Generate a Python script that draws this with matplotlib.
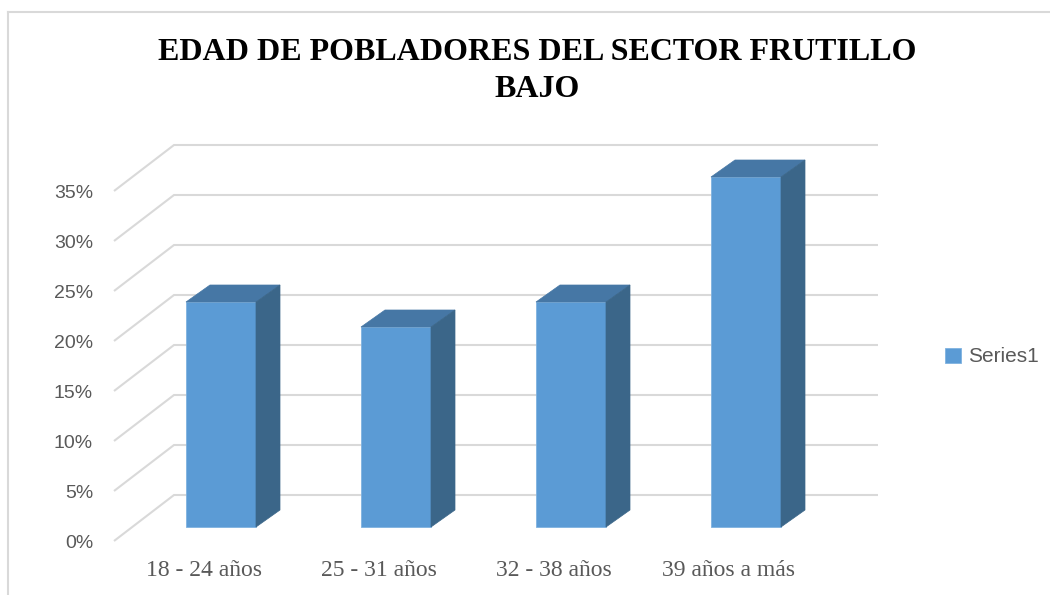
import matplotlib
matplotlib.use("Agg")
import matplotlib.pyplot as plt
from matplotlib.patches import Polygon
from matplotlib.lines import Line2D

categories = ["18 - 24 años", "25 - 31 años", "32 - 38 años", "39 años a más"]
values = [22.5, 20.0, 22.5, 35.0]          # percent
ytick_values = [0, 5, 10, 15, 20, 25, 30, 35]
ytick_labels = ["0%", "5%", "10%", "15%", "20%", "25%", "30%", "35%"]
series_name = "Series1"
title = "EDAD DE POBLADORES DEL SECTOR FRUTILLO\nBAJO"

W, H = 1050, 595
fig = plt.figure(figsize=(W / 100, H / 100), dpi=100)
ax = fig.add_axes([0, 0, 1, 1])
# data mapping: x unit = 175 px, y unit (1%) = 10 px; origin at px (221, 527)
ax.set_xlim(-221 / 175, (W - 221) / 175)
ax.set_ylim((527 - H) / 10, 527 / 10)
ax.axis("off")

grid_c = "#D9D9D9"
front_c = "#5B9BD5"
top_c = "#4677A5"
side_c = "#3B6689"
text_c = "#595959"

# walls / gridlines (oblique)
fx, bx, rx = (114 - 221) / 175, (174 - 221) / 175, (878 - 221) / 175
for v, lab in zip(ytick_values, ytick_labels):
    ax.plot([fx, bx, rx], [v - 1.4, v + 3.2, v + 3.2], color=grid_c, lw=1.5,
            solid_capstyle="butt", zorder=1)
    ax.text((93 - 221) / 175, v - 1.6, lab, ha="right", va="center",
            fontsize=14, color=text_c, family="Liberation Sans")

# bars
width = 0.4
ddx, ddy = 24 / 175, 1.7
xs = list(range(len(categories)))
bars = ax.bar(xs, values, width=width, color=front_c, edgecolor="#7FB2E0",
              linewidth=0.6, zorder=3, label=series_name)
for x, v in zip(xs, values):
    x0, x1 = x - width / 2, x + width / 2
    ax.add_patch(Polygon([(x0, v), (x1, v), (x1 + ddx, v + ddy), (x0 + ddx, v + ddy)],
                         closed=True, facecolor=top_c, edgecolor=top_c, lw=0.5, zorder=3))
    ax.add_patch(Polygon([(x1, 0), (x1 + ddx, ddy), (x1 + ddx, v + ddy), (x1, v)],
                         closed=True, facecolor=side_c, edgecolor=side_c, lw=0.5, zorder=3))

for x, c in zip(xs, categories):
    ax.text(x - 17 / 175, -4.3, c, ha="center", va="center", fontsize=17,
            color=text_c, family="Liberation Serif")

fig.text(537 / W, 1 - 71 / H, title, ha="center", va="center", fontsize=23,
         fontweight="bold", family="Liberation Serif", color="black",
         linespacing=1.37)

leg = ax.legend(handles=[bars], labels=[series_name], loc="center left",
                bbox_to_anchor=(945 / W, 1 - 357 / H), bbox_transform=fig.transFigure,
                frameon=False, handlelength=0.75, handleheight=0.75,
                handletextpad=0.35, borderpad=0, borderaxespad=0,
                prop={"family": "Liberation Sans", "size": 15})
for t in leg.get_texts():
    t.set_color(text_c)

# chart border
fig.add_artist(Line2D([8 / W, 8 / W], [0, 1 - 12 / H], color=grid_c, lw=1.5))
fig.add_artist(Line2D([8 / W, 1], [1 - 12 / H, 1 - 12 / H], color=grid_c, lw=1.5))

fig.savefig("out.png", dpi=100)
